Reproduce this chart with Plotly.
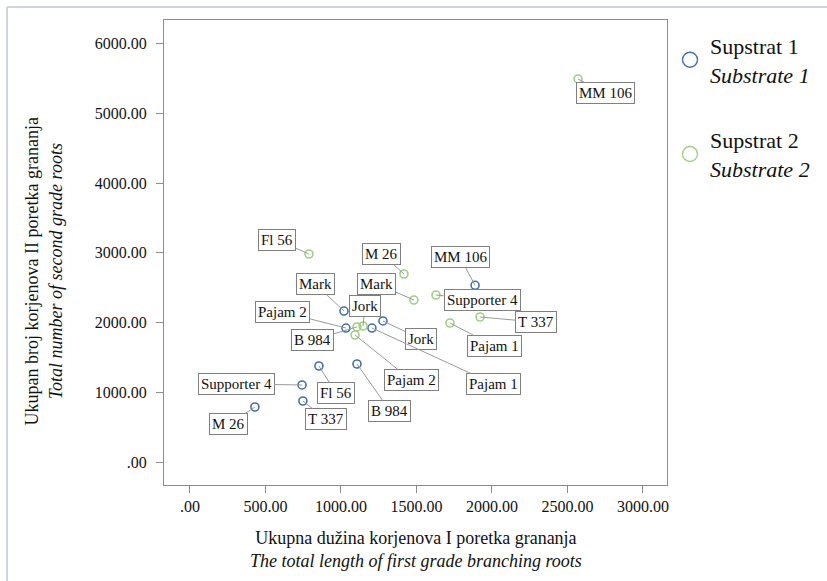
import plotly.graph_objects as go

# Root measurements per rootstock, two substrates
cultivars_s1 = ["MM 106", "Jork", "Mark", "Pajam 2", "Pajam 1",
                "Fl 56", "B 984", "Supporter 4", "T 337", "M 26"]
length_s1 = [1888, 1278, 1020, 1033, 1205, 854, 1106, 742, 748, 430]
count_s1 = [2535, 2023, 2166, 1922, 1922, 1377, 1406, 1105, 875, 789]

cultivars_s2 = ["MM 106", "Fl 56", "M 26", "Mark", "Supporter 4",
                "T 337", "Pajam 1", "Jork", "B 984", "Pajam 2"]
length_s2 = [2570, 788, 1417, 1483, 1629, 1921, 1722, 1146, 1106, 1093]
count_s2 = [5495, 2984, 2697, 2324, 2396, 2080, 1994, 1951, 1937, 1822]

x_ticks = [0, 500, 1000, 1500, 2000, 2500, 3000]
x_ticktext = [".00", "500.00", "1000.00", "1500.00", "2000.00", "2500.00", "3000.00"]
y_ticks = [0, 1000, 2000, 3000, 4000, 5000, 6000]
y_ticktext = [".00", "1000.00", "2000.00", "3000.00", "4000.00", "5000.00", "6000.00"]

# label box offsets (pixels) from each point
offsets_s1 = {
    "MM 106": (-15, -28), "Jork": (38, 18), "Mark": (-29, -27),
    "Pajam 2": (-63, -16), "Pajam 1": (122, 56), "Fl 56": (17, 27),
    "B 984": (33, 47), "Supporter 4": (-66, -1), "T 337": (23, 18),
    "M 26": (-26, 17),
}
offsets_s2 = {
    "MM 106": (27, 14), "Fl 56": (-32, -14), "M 26": (-22, -20),
    "Mark": (-37, -16), "Supporter 4": (47, 5), "T 337": (56, 5),
    "Pajam 1": (44, 23), "Jork": (2, -20), "B 984": (-44, 13),
    "Pajam 2": (56, 45),
}

BLUE = "#4470ab"
GREEN = "#a2cf85"
SERIF = "Liberation Serif"

fig = go.Figure()

# data traces (legend drawn by larger proxy markers)
fig.add_trace(go.Scatter(
    x=length_s1, y=count_s1, mode="markers", showlegend=False,
    marker=dict(symbol="circle-open", size=8, color=BLUE, line=dict(width=1.6)),
))
fig.add_trace(go.Scatter(
    x=length_s2, y=count_s2, mode="markers", showlegend=False,
    marker=dict(symbol="circle-open", size=8, color=GREEN, line=dict(width=1.6)),
))
fig.add_trace(go.Scatter(
    x=[None], y=[None], mode="markers", legendgroup="s1",
    name="Supstrat 1<br><i>Substrate 1</i>",
    marker=dict(symbol="circle-open", size=15, color=BLUE, line=dict(width=1.4)),
))
fig.add_trace(go.Scatter(
    x=[None], y=[None], mode="markers", legendgroup="s2",
    name="Supstrat 2<br><i>Substrate 2</i>",
    marker=dict(symbol="circle-open", size=15, color=GREEN, line=dict(width=1.4)),
))

annotations = []
for names, xs, ys, offs in [(cultivars_s1, length_s1, count_s1, offsets_s1),
                            (cultivars_s2, length_s2, count_s2, offsets_s2)]:
    for name, xv, yv in zip(names, xs, ys):
        ax, ay = offs[name]
        annotations.append(dict(
            x=xv, y=yv, xref="x", yref="y", text=name,
            showarrow=True, arrowhead=0, arrowwidth=1, arrowcolor="#9a9a9a",
            ax=ax, ay=ay, standoff=0,
            font=dict(family=SERIF, size=15, color="#111111"),
            bgcolor="white", bordercolor="#7f7f7f", borderwidth=1, borderpad=2,
        ))

# axis titles
annotations.append(dict(
    x=0.5, y=-0.088, xref="paper", yref="paper", showarrow=False,
    xanchor="center", yanchor="top",
    text="Ukupna dužina korjenova I poretka grananja<br><i>The total length of first grade branching roots</i>",
    font=dict(family=SERIF, size=18, color="#111111"),
))
annotations.append(dict(
    x=-0.24, y=0.46, xref="paper", yref="paper", showarrow=False,
    xanchor="center", yanchor="middle", textangle=-90,
    text="Ukupan broj korjenova II poretka grananja<br><i>Total number of second grade roots</i>",
    font=dict(family=SERIF, size=18, color="#111111"),
))

axis_common = dict(
    showgrid=False, zeroline=False, showline=True, linecolor="#8c8c8c",
    linewidth=1, mirror=True, ticks="outside", ticklen=7, tickcolor="#8c8c8c",
    tickfont=dict(family=SERIF, size=16, color="#111111"),
)

fig.update_layout(
    width=827, height=581,
    margin=dict(l=164, r=160, t=20, b=96),
    paper_bgcolor="white", plot_bgcolor="white",
    font=dict(family=SERIF),
    xaxis=dict(range=[-172, 3159], tickvals=x_ticks, ticktext=x_ticktext, **axis_common),
    yaxis=dict(range=[-330, 6341], tickvals=y_ticks, ticktext=y_ticktext,
               ticklabelstandoff=6, **axis_common),
    legend=dict(
        x=1.006, y=0.99, xanchor="left", yanchor="top",
        font=dict(family=SERIF, size=22, color="#111111"),
        tracegroupgap=34, bgcolor="rgba(0,0,0,0)",
    ),
    annotations=annotations,
    shapes=[
        # light outer frame
        dict(type="line", xref="paper", yref="paper",
             x0=(7 - 164) / 503, x1=(827 - 164) / 503,
             y0=(485 - 7) / 465, y1=(485 - 7) / 465,
             line=dict(color="#cdd6df", width=2)),
        dict(type="line", xref="paper", yref="paper",
             x0=(7 - 164) / 503, x1=(7 - 164) / 503,
             y0=(485 - 7) / 465, y1=(485 - 581) / 465,
             line=dict(color="#cdd6df", width=2)),
    ],
    showlegend=True,
)

fig.write_html("out.html")
